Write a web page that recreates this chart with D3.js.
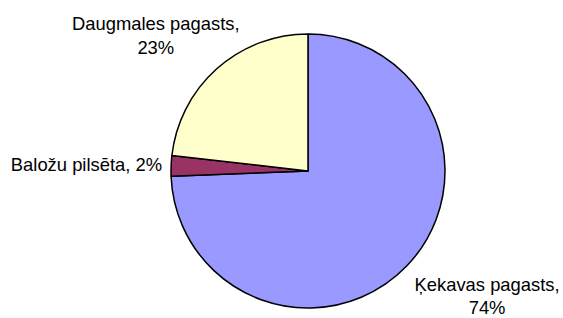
<!DOCTYPE html>
<html>
<head>
<meta charset="utf-8">
<script src="https://cdn.jsdelivr.net/npm/d3@7"></script>
<style>
  body { margin: 0; background: #fff; }
  text { font-family: "Liberation Sans", Arial, sans-serif; font-size: 18.4px; fill: #000; }
</style>
</head>
<body>
<div id="chart"></div>
<script>
const width = 563;
const height = 318;

// Data
const names = ["Ķekavas pagasts", "Baložu pilsēta", "Daugmales pagasts"];
const shares = [74.4, 2.4, 23.2];
const colors = ["#9999FF", "#993366", "#FFFFCC"];

const data = names.map((n, i) => ({name: n, value: shares[i], color: colors[i]}));

const cx = 308;
const cy = 171;
const radius = 137;

const svg = d3.select("#chart")
  .append("svg")
    .attr("width", width)
    .attr("height", height);

const pieChart = svg
  .append("g")
    .attr("transform", `translate(${cx}, ${cy})`);

const pie = d3.pie()
  .value(d => d.value)
  .sort(null);

const arcGenerator = d3.arc()
  .innerRadius(0)
  .outerRadius(radius);

const arcs = pie(data);

pieChart
  .selectAll(".slice")
  .data(arcs)
  .join("path")
    .attr("class", "slice")
    .attr("d", arcGenerator)
    .attr("fill", d => d.data.color)
    .attr("stroke", "#000")
    .attr("stroke-width", 1.5)
    .attr("stroke-linejoin", "round");

// Label layout: radius along mid-angle, then a nudge
const labelLayout = [
  {r: 200, dx: 35, dy: -19, anchor: "middle", split: true, lh: 23},
  {r: 160, dx: 14, dy: 6, anchor: "end", split: false},
  {r: 200, dx: -19, dy: 8.5, anchor: "middle", split: true, lh: 24}
];

const labels = pieChart
  .append("g")
    .attr("class", "labels")
  .selectAll(".label")
  .data(arcs)
  .join("text")
    .attr("class", "label")
    .attr("text-anchor", (d, i) => labelLayout[i].anchor)
    .attr("transform", (d, i) => {
      const a = (d.startAngle + d.endAngle) / 2;
      const l = labelLayout[i];
      const x = Math.sin(a) * l.r + l.dx;
      const y = -Math.cos(a) * l.r + l.dy;
      return `translate(${x}, ${y})`;
    });

labels.each(function(d, i) {
  const t = d3.select(this);
  const pct = d3.format(".0f")(d.data.value) + "%";
  if (labelLayout[i].split) {
    t.append("tspan").attr("x", 0).text(d.data.name + ",");
    t.append("tspan").attr("x", 0).attr("dy", labelLayout[i].lh).text(pct);
  } else {
    t.append("tspan").attr("x", 0).text(d.data.name + ", " + pct);
  }
});
</script>
</body>
</html>
